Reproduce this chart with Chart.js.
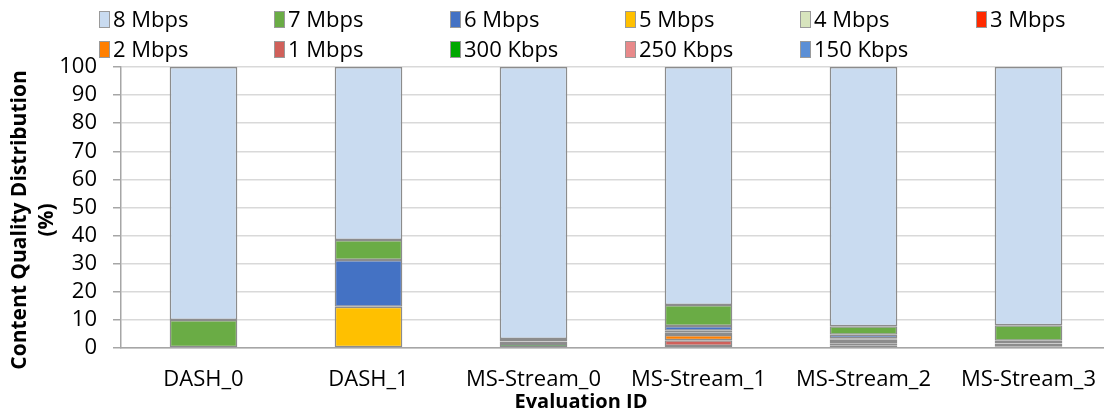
<!DOCTYPE html>
<html>
<head>
<meta charset="utf-8">
<script src="https://cdn.jsdelivr.net/npm/chart.js@4/dist/chart.umd.min.js"></script>
<style>
    html,body{margin:0;padding:0;background:#fff;overflow:hidden;}
    #wrap{position:relative;width:1117px;height:414px;}
    #leyenda{position:absolute;left:99px;top:4px;font-family:"Open Sans",sans-serif;font-size:22px;color:#000;}
    .item{position:absolute;white-space:nowrap;line-height:28px;}
    .caja{display:inline-block;width:11px;height:17px;border:1px solid #9a9a9a;vertical-align:-1px;margin-right:3px;box-sizing:border-box;}
</style>
</head>
<body>
<div id="wrap">
    <canvas id="grafico1" width="1117" height="414"></canvas>
    <div id="leyenda"></div>
</div>
<script>
let categorias=['DASH_0','DASH_1','MS-Stream_0','MS-Stream_1','MS-Stream_2','MS-Stream_3'];
// de abajo hacia arriba en cada barra
let calidades=['150 Kbps','250 Kbps','300 Kbps','1 Mbps','2 Mbps','3 Mbps','4 Mbps','5 Mbps','6 Mbps','7 Mbps','8 Mbps'];
let k150=[null,null,null,0.4,0.3,null];
let k250=[null,null,null,0.3,null,null];
let k300=[null,null,1.4,null,null,0.6];
let m1=[null,null,null,2.1,0.5,0.5];
let m2=[null,null,null,1.8,0.9,0.5];
let m3=[null,null,null,0.4,0.4,null];
let m4=[null,null,null,0.6,0.8,1.0];
let m5=[null,14.7,null,0.5,0.6,null];
let m6=[null,16.6,0.9,1.7,1.2,null];
let m7=[10,7.1,0.9,7.5,3.0,5.5];
let m8=[90,61.6,96.8,84.7,92.3,91.9];
let ticksY=[0,10,20,30,40,50,60,70,80,90,100];
let tituloX='Evaluation ID';
let tituloY=['Content Quality Distribution','(%)'];

let series=[k150,k250,k300,m1,m2,m3,m4,m5,m6,m7,m8];
let colores=['#5b8fd6','#e8898a','#00a800','#d0605a','#ff7f00','#ff2a00','#d7e4bd','#ffc000','#4472c4','#6aac45','#c9dbf0'];

let datasets=[];
calidades.forEach((c,i)=>{
    datasets.push({
        label:c,
        data:series[i],
        backgroundColor:colores[i],
        borderColor:'#8c8c8c',
        borderWidth:1.5,
        borderSkipped:false,
        barPercentage:0.41,
        categoryPercentage:1
    });
});

// leyenda en dos filas, orden inverso
let ley=document.getElementById('leyenda');
let orden=calidades.slice().reverse();
let colOrden=colores.slice().reverse();
orden.forEach((c,i)=>{
    let d=document.createElement('div');
    d.className='item';
    d.style.left=Math.round((i%6)*175.3)+'px';
    d.style.top=Math.floor(i/6)*30+'px';
    d.innerHTML='<span class="caja" style="background:'+colOrden[i]+'"></span>'+c;
    ley.appendChild(d);
});

let fuente='"Open Sans", sans-serif';

// titulos de ejes dibujados a mano
let titulos={
    id:'titulos',
    afterDraw:function(chart){
        let c=chart.ctx;
        c.save();
        c.fillStyle='#000';
        c.textAlign='center';
        c.textBaseline='middle';
        c.font='bold 20px '+fuente;
        c.fillText(tituloX,581,402);
        c.font='bold 21px '+fuente;
        c.translate(20,220);
        c.rotate(-Math.PI/2);
        c.fillText(tituloY[0],0,0);
        c.fillText(tituloY[1],0,27);
        c.restore();
    }
};

let ctx=document.getElementById('grafico1').getContext('2d');
let G1=new Chart(ctx,{
    type:'bar',
    data:{labels:categorias,datasets:datasets},
    plugins:[titulos],
    options:{
        responsive:false,
        animation:false,
        layout:{padding:{top:67,left:0,right:0,bottom:0}},
        plugins:{legend:{display:false},tooltip:{enabled:false}},
        scales:{
            x:{
                stacked:true,
                grid:{drawOnChartArea:false,drawTicks:false},
                border:{display:true,color:'#a6a6a6',width:1.5},
                ticks:{color:'#000',font:{family:fuente,size:22,lineHeight:1},autoSkip:false,maxRotation:0,padding:21},
                afterFit:function(s){s.height=66;}
            },
            y:{
                stacked:true,
                min:0,max:100,
                afterBuildTicks:function(s){s.ticks=ticksY.map(v=>({value:v}));},
                grid:{color:'#d9d9d9',lineWidth:1.5,tickLength:8,tickColor:'#a6a6a6'},
                border:{display:true,color:'#a6a6a6',width:1.5},
                ticks:{color:'#000',font:{family:fuente,size:22,lineHeight:1},autoSkip:false,padding:16},
                afterFit:function(s){s.width=121;}
            }
        }
    }
});
</script>
</body>
</html>
